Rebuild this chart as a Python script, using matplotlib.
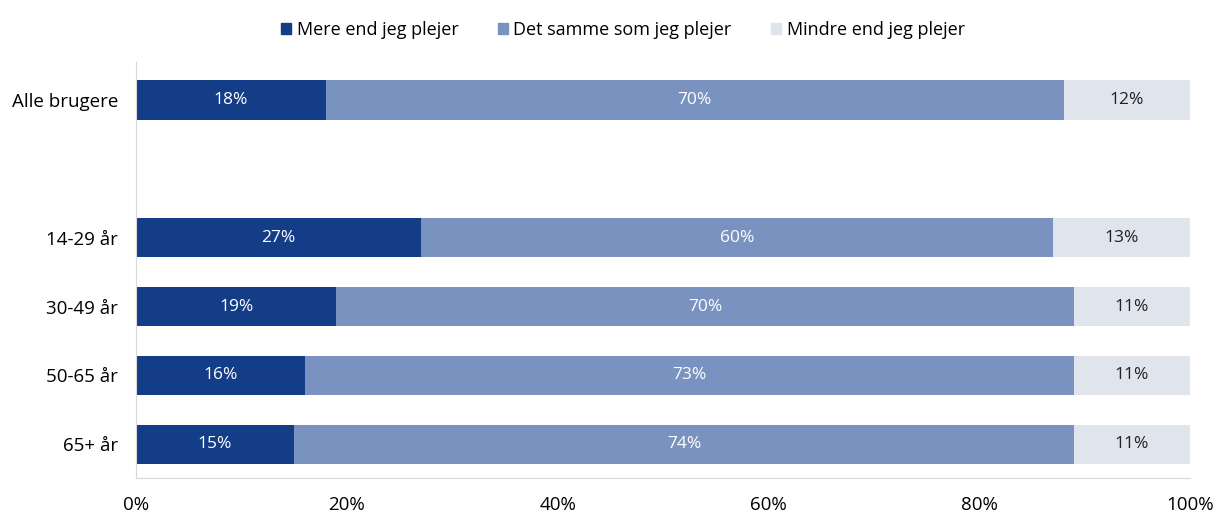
import matplotlib.pyplot as plt
from matplotlib.ticker import PercentFormatter
from matplotlib.patches import Patch

plt.rcParams['font.family'] = ['Open Sans', 'DejaVu Sans']

# data
categories = ['Alle brugere', '14-29 år', '30-49 år', '50-65 år', '65+ år']
positions = [0, 2, 3, 4, 5]
mere = [18, 27, 19, 16, 15]
samme = [70, 60, 70, 73, 74]
mindre = [12, 13, 11, 11, 11]
series_names = ['Mere end jeg plejer', 'Det samme som jeg plejer', 'Mindre end jeg plejer']
colors = ['#143d88', '#7a92bf', '#e0e4ec']
text_colors = ['white', 'white', '#222222']

fig = plt.figure(figsize=(12.18, 5.12), dpi=100)
ax = fig.add_axes([136 / 1218, 34 / 512, 1054 / 1218, 416 / 512])

left = [0] * len(categories)
for vals, col, tcol in zip([mere, samme, mindre], colors, text_colors):
    bars = ax.barh(positions, vals, left=left, height=0.57, color=col)
    for b, v in zip(bars, vals):
        ax.text(b.get_x() + b.get_width() / 2, b.get_y() + b.get_height() / 2,
                '%d%%' % v, ha='center', va='center', color=tcol, fontsize=12.5)
    left = [l + v for l, v in zip(left, vals)]

ax.set_xlim(0, 100)
ax.set_ylim(5.49, -0.55)
ax.set_yticks(positions)
ax.set_yticklabels(categories, fontsize=13.5)
ax.set_xticks(range(0, 101, 20))
ax.xaxis.set_major_formatter(PercentFormatter(decimals=0))
ax.tick_params(axis='x', labelsize=13.5, length=0, pad=13)
ax.tick_params(axis='y', length=0, pad=13)
for side in ['top', 'right']:
    ax.spines[side].set_visible(False)
for side in ['left', 'bottom']:
    ax.spines[side].set_color('#d8d8d8')

handles = [Patch(color=c) for c in colors]
fig.legend(handles, series_names, loc='center', bbox_to_anchor=(623 / 1218, 1 - 30 / 512),
           ncol=3, frameon=False, fontsize=13, handlelength=0.55, handleheight=0.55,
           handletextpad=0.3, columnspacing=2.2)

fig.savefig('out.png', dpi=100)
